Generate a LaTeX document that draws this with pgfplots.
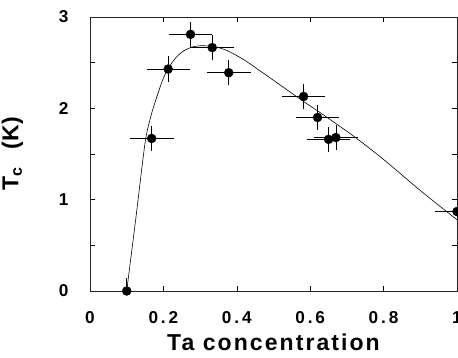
\documentclass[border=0pt]{standalone}
\usepackage{fontspec}
\setmainfont{Liberation Sans}
\usepackage{pgfplots}
\usepackage{pgfplotstable}
\pgfplotsset{compat=1.18}
\pgfplotstableread{
x y ex ey
0.100 0.00 0.05 0.1
0.168 1.67 0.05 0.1
0.213 2.43 0.049 0.1
0.274 2.81 0.05 0.1
0.333 2.665 0.05 0.1
0.378 2.39 0.05 0.1
0.582 2.13 0.05 0.1
0.620 1.90 0.05 0.1
0.650 1.66 0.05 0.1
0.670 1.68 0.05 0.1
1.000 0.87 0.05 0.1
}\datatable
\pgfplotstableread{
x y
0.100 0.00
0.125 0.80
0.150 1.62
0.165 1.90
0.180 2.10
0.200 2.33
0.220 2.48
0.240 2.58
0.260 2.64
0.280 2.673
0.300 2.685
0.320 2.683
0.350 2.665
0.380 2.62
0.420 2.53
0.460 2.42
0.520 2.25
0.580 2.08
0.630 1.945
0.720 1.69
0.800 1.44
0.900 1.10
1.000 0.78
}\fittable
\begin{document}
\begin{tikzpicture}
\begin{axis}[
 scale only axis, width=367pt, height=274pt,
 xmin=0, xmax=1, ymin=0, ymax=3,
 xtick={0,0.2,0.4,0.6,0.8,1},
 xticklabels={0,0.2,0.4,0.6,0.8,1},
 ytick={0,1,2,3}, yticklabels={0,1,2,3},
 minor ytick={0.5,1.5,2.5},
 tick align=inside, major tick length=5pt, minor tick length=5pt,
 tick style={black, line width=0.6pt},
 axis line style={line width=0.8pt, black!85},
 ticklabel style={font=\fontsize{17.2}{18}\selectfont\bfseries\addfontfeatures{LetterSpace=17}},
 yticklabel style={xshift=-18pt},
 xticklabel style={yshift=-17pt},
 xlabel={Ta concentration}, ylabel={T\textsubscript{c}\hspace{0.8em}(K)},
 label style={font=\fontsize{23}{23}\selectfont\bfseries},
 xlabel style={font=\fontsize{23}{23}\selectfont\bfseries\addfontfeatures{LetterSpace=9}, yshift=-3pt},
 ylabel style={yshift=29pt},
]
\addplot[black, line width=0.6pt, smooth, tension=0.5] table[x=x,y=y] {\fittable};
\addplot[only marks, mark=*, mark size=4.5pt, black,
  error bars/.cd, x dir=both, x explicit, y dir=both, y explicit,
  error bar style={line width=0.6pt, black},
  error mark options={mark size=3.5pt, line width=0.6pt, black}]
  table[x=x, y=y, x error=ex, y error=ey] {\datatable};
\end{axis}
\pgfresetboundingbox
\path ([xshift=-90pt,yshift=-67pt]current axis.south west) rectangle ([xshift=1pt,yshift=17pt]current axis.north east);
\end{tikzpicture}
\end{document}
